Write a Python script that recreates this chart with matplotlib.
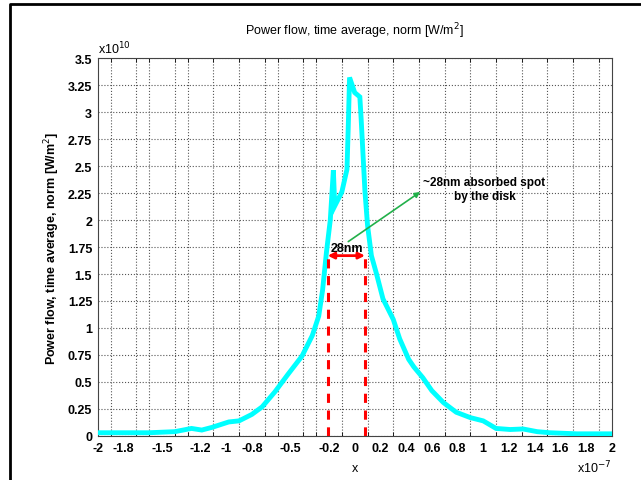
import numpy as np
import matplotlib
matplotlib.use("Agg")
import matplotlib.pyplot as plt
from matplotlib.lines import Line2D

plt.rcParams['font.family'] = ['Liberation Sans', 'DejaVu Sans']

# position in units of 1e-7 m, power flow in units of 1e10 W/m^2
x_pos = [-2.0, -1.8, -1.6, -1.4, -1.27, -1.19, -1.11, -0.98, -0.9, -0.8,
         -0.72, -0.62, -0.52, -0.41, -0.33, -0.28, -0.25, -0.22, -0.19,
         -0.166, -0.155, -0.10, -0.06, -0.05, -0.04, 0.0, 0.04, 0.05, 0.08,
         0.10, 0.13, 0.17, 0.22, 0.30, 0.35, 0.42, 0.46, 0.53, 0.60, 0.69,
         0.79, 0.90, 1.00, 1.10, 1.21, 1.31, 1.42, 1.52, 1.73, 2.0]
power = [0.03, 0.03, 0.03, 0.04, 0.07, 0.055, 0.08, 0.13, 0.14, 0.20,
         0.27, 0.41, 0.57, 0.74, 0.93, 1.11, 1.35, 1.70, 2.0,
         2.46, 2.13, 2.26, 2.47, 2.87, 3.32, 3.18, 3.14, 2.94, 2.26,
         1.95, 1.67, 1.50, 1.27, 1.08, 0.90, 0.71, 0.64, 0.54, 0.42, 0.31,
         0.22, 0.17, 0.14, 0.07, 0.06, 0.065, 0.04, 0.03, 0.02, 0.02]

x_ticks = [-2, -1.8, -1.5, -1.2, -1, -0.8, -0.5, -0.2, 0, 0.2, 0.4, 0.6,
           0.8, 1, 1.2, 1.4, 1.6, 1.8, 2]
x_tick_labels = ['-2', '-1.8', '-1.5', '-1.2', '-1', '-0.8', '-0.5', '-0.2',
                 '0', '0.2', '0.4', '0.6', '0.8', '1', '1.2', '1.4', '1.6',
                 '1.8', '2']
y_ticks = [0, 0.25, 0.5, 0.75, 1, 1.25, 1.5, 1.75, 2, 2.25, 2.5, 2.75, 3,
           3.25, 3.5]
y_tick_labels = ['0', '0.25', '0.5', '0.75', '1', '1.25', '1.5', '1.75', '2',
                 '2.25', '2.5', '2.75', '3', '3.25', '3.5']

spot_left, spot_right = -0.21, 0.08
spot_level = 1.67

fig = plt.figure(figsize=(6.41, 4.81), dpi=100)
ax = fig.add_axes([0.1524, 0.0915, 0.8019, 0.7858])

ax.plot(x_pos, power, color='#00ffff', lw=3.5, solid_joinstyle='miter', zorder=3)

# spot markers
for xs in (spot_left, spot_right):
    ax.plot([xs, xs], [0, spot_level], color='red', lw=2.2, ls=(0, (3, 2.5)), zorder=4)
ax.annotate('', xy=(spot_left, spot_level), xytext=(spot_right, spot_level),
            arrowprops=dict(arrowstyle='<|-|>', color='red', lw=2,
                            mutation_scale=9, shrinkA=0, shrinkB=0), zorder=5)
ax.text(-0.06, 1.74, '28nm', fontsize=9, fontweight='bold', ha='center', va='center')

ax.annotate('', xy=(0.51, 2.26), xytext=(-0.05, 1.80),
            arrowprops=dict(arrowstyle='-|>', color='#22b04a', lw=1.2,
                            mutation_scale=8, shrinkA=0, shrinkB=0))
ax.text(1.01, 2.29, '~28nm absorbed spot\nby the disk', fontsize=8.5,
        fontweight='bold', ha='center', va='center', linespacing=1.2)

ax.set_xlim(-2, 2)
ax.set_ylim(0, 3.5)
ax.set_xticks(x_ticks)
ax.set_xticklabels(x_tick_labels, fontsize=9, fontweight='bold')
ax.set_yticks(y_ticks)
ax.set_yticklabels(y_tick_labels, fontsize=9, fontweight='bold')
ax.set_xticks(np.arange(-2, 2.01, 0.1), minor=True)
ax.tick_params(which='both', direction='in', top=True, right=True, length=0, pad=4)
ax.tick_params(which='minor', length=3)
ax.grid(which='minor', axis='x', color='#555555', ls=':', lw=0.8)
ax.grid(which='major', axis='y', color='#555555', ls=':', lw=0.8)
for s in ax.spines.values():
    s.set_color('#444444')
    s.set_linewidth(0.8)

ax.set_title('Power flow, time average, norm [W/m$^2$]', fontsize=9, pad=17)
ax.set_xlabel('x', fontsize=9, labelpad=6)
ax.set_ylabel('Power flow, time average, norm [W/m$^2$]', fontsize=9,
              fontweight='bold', labelpad=4)
ax.text(0.0, 1.005, r'x10$^{10}$', transform=ax.transAxes, fontsize=9,
        ha='left', va='bottom')
ax.text(1.0, -0.06, r'x10$^{-7}$', transform=ax.transAxes, fontsize=9,
        ha='right', va='top')

# page frame
fig.add_artist(Line2D([10 / 641, 10 / 641, 1], [0, 1 - 5 / 481, 1 - 5 / 481],
                      transform=fig.transFigure, color='black', lw=2))

fig.savefig('out.png', dpi=100)
